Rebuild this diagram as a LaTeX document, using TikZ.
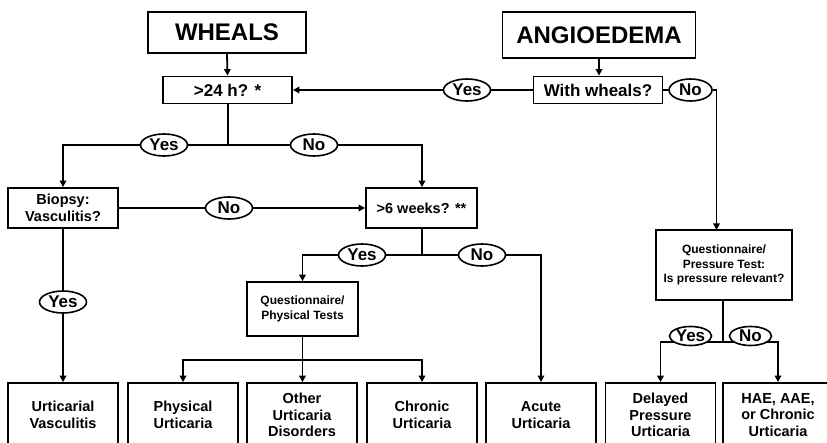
\documentclass[tikz,border=0pt]{standalone}
\usepackage{fontspec}
\setmainfont{Liberation Sans}
\usetikzlibrary{arrows.meta,shapes.geometric}
\tikzset{
  box/.style={draw, line width=1.8pt, inner sep=0pt, align=center, font=\bfseries\fontsize{14.5}{16.5}\selectfont},
  bigbox/.style={box, font=\bfseries\fontsize{24}{28}\selectfont},
  midbox/.style={box, font=\bfseries\fontsize{17}{20}\selectfont},
  smallbox/.style={box, font=\bfseries\fontsize{12}{14.5}\selectfont},
  lab/.style={draw, ellipse, line width=1.6pt, fill=white, inner sep=0pt, minimum width=47pt, minimum height=22pt, font=\bfseries\fontsize{17}{20}\selectfont},
  conn/.style={line width=1.8pt},
  arr/.style={conn, -{Triangle[length=6.5pt,width=6.5pt]}}
}
\begin{document}
\begin{tikzpicture}[x=1pt,y=-1pt]
\useasboundingbox (0,0) rectangle (827,443);
\clip (0,0) rectangle (827,443);
% boxes
\node[bigbox, minimum width=158pt, minimum height=41pt] (wheals) at (227,32.5) {WHEALS};
\node[bigbox, minimum width=193pt, minimum height=46pt] (angio) at (599,35) {ANGIOEDEMA};
\node[midbox, minimum width=129pt, minimum height=27pt] (h24) at (227.5,90) {>24 h? *};
\node[midbox, minimum width=129pt, minimum height=27pt] (withw) at (598,90) {With wheals?};
\node[box, minimum width=110pt, minimum height=40pt] (biopsy) at (63,208) {Biopsy:\\Vasculitis?};
\node[box, minimum width=111pt, minimum height=40pt] (weeks) at (421.5,208) {>6 weeks? **};
\node[smallbox, minimum width=111pt, minimum height=54pt, font=\bfseries\fontsize{12}{15.5}\selectfont] (qphys) at (302.5,309) {Questionnaire/\\Physical Tests};
\node[smallbox, minimum width=136pt, minimum height=70pt] (qpress) at (724,265) {Questionnaire/\\Pressure Test:\\Is pressure relevant?};
\node[box, minimum width=110pt, minimum height=64pt] (uv) at (63,415) {Urticarial\\Vasculitis};
\node[box, minimum width=110pt, minimum height=64pt] (phys) at (183,415) {Physical\\Urticaria};
\node[box, minimum width=110pt, minimum height=64pt] (other) at (302,415) {Other\\Urticaria\\Disorders};
\node[box, minimum width=110pt, minimum height=64pt] (chronic) at (422,415) {Chronic\\Urticaria};
\node[box, minimum width=110pt, minimum height=64pt] (acute) at (541,415) {Acute\\Urticaria};
\node[box, minimum width=110pt, minimum height=64pt] (delayed) at (660.5,415) {Delayed\\Pressure\\Urticaria};
\node[box, minimum width=110pt, minimum height=64pt] (hae) at (778,415) {HAE, AAE,\\or Chronic\\Urticaria};
% labels on connectors
\node[lab] (yes1) at (467,90) {Yes};
\node[lab, minimum width=43pt] (no1) at (690.5,90) {No};
\node[lab] (yes2) at (164,145) {Yes};
\node[lab] (no2) at (314,145) {No};
\node[lab] (no3) at (229,208) {No};
\node[lab] (yes4) at (63,302) {Yes};
\node[lab] (yes5) at (362,255) {Yes};
\node[lab] (no5) at (482,255) {No};
% junctions
\coordinate (j1) at (228,145);
\coordinate (j2) at (422,255);
\coordinate (j3) at (302.5,360);
\coordinate (j4) at (723,342);
\coordinate (qin) at (716.5,230);
% connectors
\draw[arr] (wheals.south) -- (h24.north);
\draw[arr] (angio.south) -- (angio.south |- withw.north);
\draw[conn] (withw.west) -- (yes1.east);
\draw[arr] (yes1.west) -- (h24.east);
\draw[conn] (withw.east) -- (no1.west);
\draw[arr] (no1.east) -| (qin);
\draw[conn] (h24.south -| j1) -- (j1);
\draw[conn] (j1) -- (yes2.east);
\draw[arr] (yes2.west) -| (biopsy.north);
\draw[conn] (j1) -- (no2.west);
\draw[arr] (no2.east) -| (weeks.north -| j2);
\draw[conn] (biopsy.east) -- (no3.west);
\draw[arr] (no3.east) -- (weeks.west);
\draw[conn] (biopsy.south) -- (yes4.north);
\draw[arr] (yes4.south) -- (uv.north);
\draw[conn] (weeks.south -| j2) -- (j2);
\draw[conn] (j2) -- (yes5.east);
\draw[arr] (yes5.west) -| (qphys.north -| j3);
\draw[conn] (j2) -- (no5.west);
\draw[arr] (no5.east) -| (acute.north);
\draw[conn] (qphys.south -| j3) -- (j3);
\draw[arr] (j3) -| (phys.north);
\draw[arr] (j3) -- (j3 |- other.north);
\draw[arr] (j3) -| (chronic.north);
\draw[conn] (qpress.south -| j4) -- (j4);
\draw[arr] (j4) -| (delayed.north);
\draw[arr] (j4) -| (hae.north);
\node[lab, minimum width=42pt, minimum height=19pt] (yes6) at (690.5,336) {Yes};
\node[lab, minimum width=42pt, minimum height=19pt] (no6) at (750.5,336) {No};
\end{tikzpicture}
\end{document}
